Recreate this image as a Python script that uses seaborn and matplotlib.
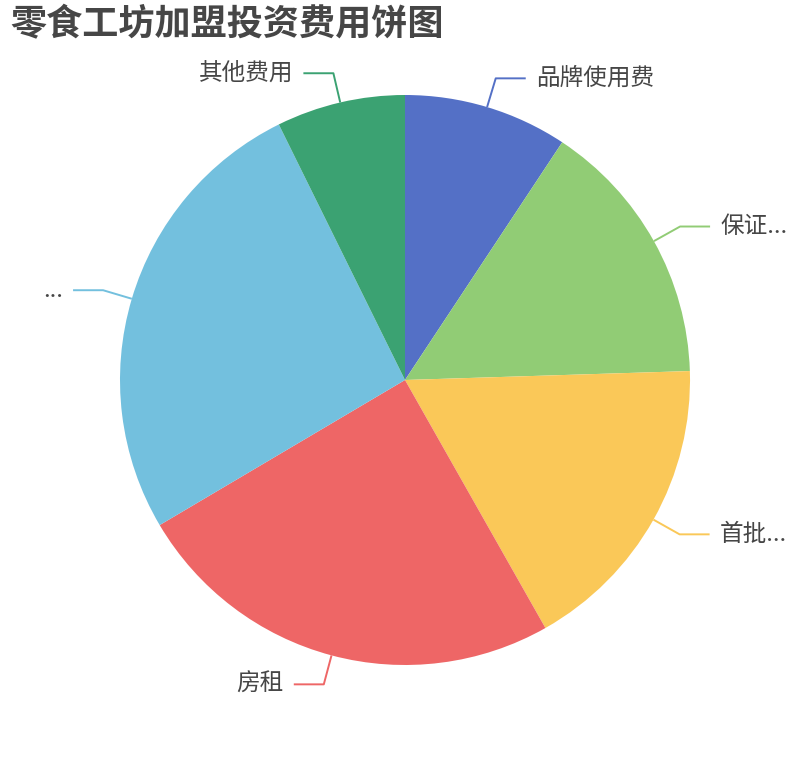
import numpy as np
import matplotlib
matplotlib.use("Agg")
import matplotlib.pyplot as plt
import seaborn as sns

# data (share of the pie, clockwise from 12 o'clock)
names = ["品牌使用费", "保证...", "首批...", "房租", "...", "其他费用"]
values = [9.3, 15.2, 17.3, 24.7, 26.2, 7.3]
colors = ["#5470c6", "#91cc75", "#fac858", "#ee6666", "#73c0de", "#3ba272"]

sns.set_theme(style="white")
plt.rcParams['font.family'] = ['Noto Sans CJK SC', 'DejaVu Sans']

W, H = 810, 760
cx, cy, R = 405, 380, 285

fig = plt.figure(figsize=(W / 100, H / 100), dpi=100)
ax = fig.add_axes([0, 0, 1, 1])
wedges, _ = ax.pie(values, colors=colors, startangle=90, counterclock=False,
                   radius=1.0, wedgeprops=dict(linewidth=0))
ax.set_xlim(-cx / R, (W - cx) / R)
ax.set_ylim(-(H - cy) / R, cy / R)
ax.set_aspect('auto')
ax.axis('off')

# label lines: radial piece, then horizontal piece, then text
l1 = 1 + 30 / R
l2 = 30 / R
gap = 10 / R
for w, name, col in zip(wedges, names, colors):
    mid = np.deg2rad((w.theta1 + w.theta2) / 2)
    x0, y0 = np.cos(mid), np.sin(mid)
    x1, y1 = l1 * x0, l1 * y0
    side = 1 if x0 >= 0 else -1
    x2 = x1 + side * l2
    ax.plot([x0, x1, x2], [y0, y1, y1], color=col, lw=1.4, solid_capstyle='butt')
    ax.text(x2 + side * gap, y1, name, ha='left' if side > 0 else 'right',
            va='center', fontsize=17, color='#464646')

fig.text(10 / W, 1 - 25 / H, "零食工坊加盟投资费用饼图", ha='left', va='center',
         fontsize=26, fontweight='bold', color='#464646')

fig.savefig("out.png", dpi=100)
